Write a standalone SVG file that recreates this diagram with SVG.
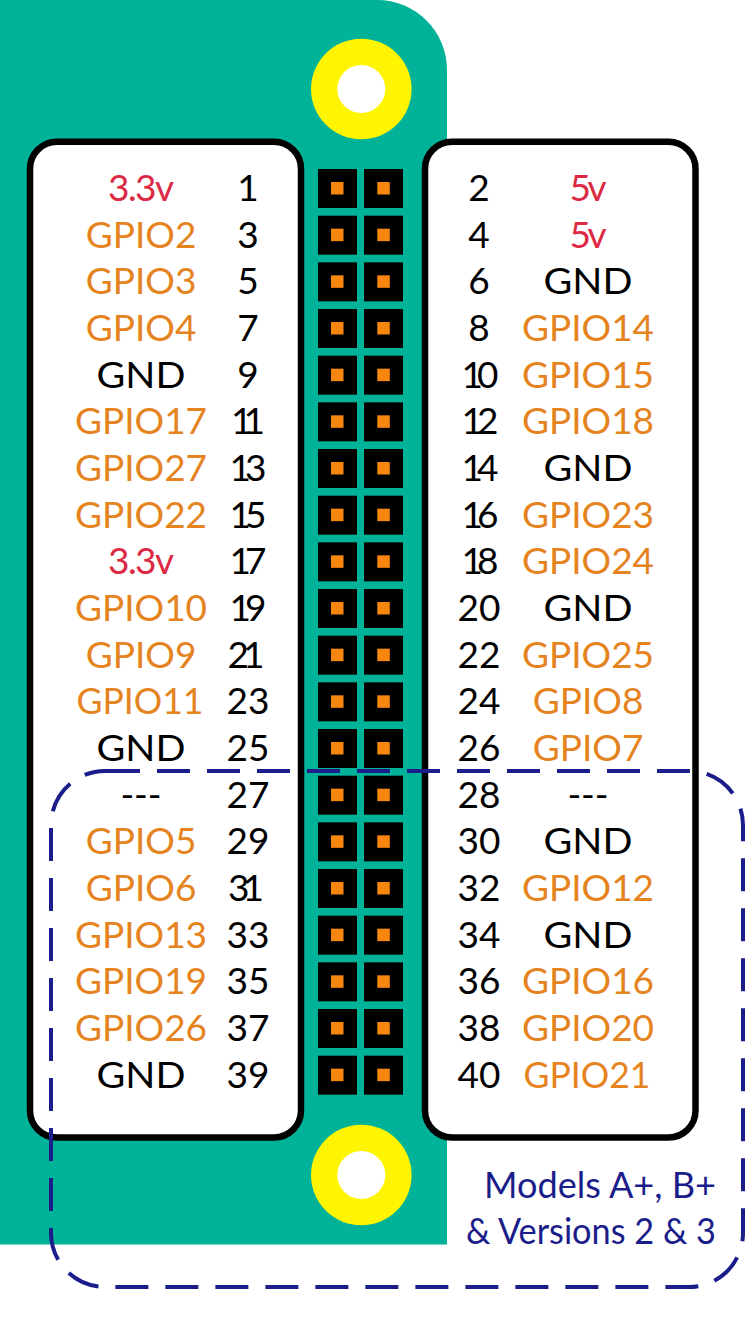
<svg xmlns="http://www.w3.org/2000/svg" width="745" height="1320" viewBox="0 0 745 1320">
<style>
text{font-family:"Lato","Open Sans","Liberation Sans",sans-serif;font-size:37px;text-anchor:middle}
.n,.g{fill:#000}.p{fill:#e5841f}.r{fill:#dc2a44}
.l{font-size:36px;fill:#1b1e8a;text-anchor:end}
.panel{fill:#fff;stroke:#000;stroke-width:6.500}
.hole{fill:#fff}.ring{fill:#fff500}
.pin{fill:#000}.pad{fill:#f7860f}
.dash{fill:none;stroke:#1b1e8a;stroke-width:4;stroke-dasharray:33 17}
</style>
<defs>
<g id="pinpair">
<rect class="pin" x="318" y="169" width="39" height="39"/><rect class="pin" x="364" y="169" width="39" height="39"/>
<rect class="pad" x="331" y="182" width="12.5" height="12.5"/><rect class="pad" x="377.3" y="182" width="12.5" height="12.5"/>
</g>
</defs>
<g id="board">
<path d="M0 0H377A70 70 0 0 1 447 70V1244.500H0Z" fill="#00b398"/>
<circle class="ring" cx="361.300" cy="89" r="50.300"/><circle class="hole" cx="361.300" cy="89" r="24"/>
<circle class="ring" cx="361.300" cy="1175" r="50.300"/><circle class="hole" cx="361.300" cy="1175" r="24"/>
</g>
<g id="panel-left"><rect class="panel" x="30" y="141.700" width="271" height="995.800" rx="27"/></g>
<g id="panel-right"><rect class="panel" x="425" y="141.700" width="270.500" height="995.800" rx="27"/></g>
<g id="row-1"><use href="#pinpair"/><text class="r" x="141" y="201" textLength="66">3.3v</text><text class="n" x="248" y="201">1</text><text class="n" x="479" y="201">2</text><text class="r" x="588" y="201" textLength="37">5v</text></g>
<g id="row-2"><use href="#pinpair" y="46.67"/><text class="p" x="141" y="247.7">GPIO2</text><text class="n" x="248" y="247.7">3</text><text class="n" x="479" y="247.7">4</text><text class="r" x="588" y="247.7" textLength="37">5v</text></g>
<g id="row-3"><use href="#pinpair" y="93.33"/><text class="p" x="141" y="294.3">GPIO3</text><text class="n" x="248" y="294.3">5</text><text class="n" x="479" y="294.3">6</text><text class="g" x="588" y="294.3" textLength="89" lengthAdjust="spacingAndGlyphs">GND</text></g>
<g id="row-4"><use href="#pinpair" y="140"/><text class="p" x="141" y="341">GPIO4</text><text class="n" x="248" y="341">7</text><text class="n" x="479" y="341">8</text><text class="p" x="588" y="341">GPIO14</text></g>
<g id="row-5"><use href="#pinpair" y="186.67"/><text class="g" x="141" y="387.7" textLength="89" lengthAdjust="spacingAndGlyphs">GND</text><text class="n" x="248" y="387.7">9</text><text class="n" x="480" y="387.7" textLength="37">10</text><text class="p" x="588" y="387.7">GPIO15</text></g>
<g id="row-6"><use href="#pinpair" y="233.33"/><text class="p" x="141" y="434.3">GPIO17</text><text class="n" x="248" y="434.3" textLength="34">11</text><text class="n" x="480" y="434.3" textLength="37">12</text><text class="p" x="588" y="434.3">GPIO18</text></g>
<g id="row-7"><use href="#pinpair" y="280"/><text class="p" x="141" y="481">GPIO27</text><text class="n" x="248" y="481" textLength="37">13</text><text class="n" x="480" y="481" textLength="37">14</text><text class="g" x="588" y="481" textLength="89" lengthAdjust="spacingAndGlyphs">GND</text></g>
<g id="row-8"><use href="#pinpair" y="326.67"/><text class="p" x="141" y="527.7">GPIO22</text><text class="n" x="248" y="527.7" textLength="37">15</text><text class="n" x="480" y="527.7" textLength="37">16</text><text class="p" x="588" y="527.7">GPIO23</text></g>
<g id="row-9"><use href="#pinpair" y="373.33"/><text class="r" x="141" y="574.3" textLength="66">3.3v</text><text class="n" x="248" y="574.3" textLength="37">17</text><text class="n" x="480" y="574.3" textLength="37">18</text><text class="p" x="588" y="574.3">GPIO24</text></g>
<g id="row-10"><use href="#pinpair" y="420"/><text class="p" x="141" y="621">GPIO10</text><text class="n" x="248" y="621" textLength="37">19</text><text class="n" x="479" y="621">20</text><text class="g" x="588" y="621" textLength="89" lengthAdjust="spacingAndGlyphs">GND</text></g>
<g id="row-11"><use href="#pinpair" y="466.67"/><text class="p" x="141" y="667.7">GPIO9</text><text class="n" x="246" y="667.7" textLength="37">21</text><text class="n" x="479" y="667.7">22</text><text class="p" x="588" y="667.7">GPIO25</text></g>
<g id="row-12"><use href="#pinpair" y="513.33"/><text class="p" x="140" y="714.3" textLength="127" lengthAdjust="spacingAndGlyphs">GPIO11</text><text class="n" x="248" y="714.3">23</text><text class="n" x="479" y="714.3">24</text><text class="p" x="588" y="714.3">GPIO8</text></g>
<g id="row-13"><use href="#pinpair" y="560"/><text class="g" x="141" y="761" textLength="89" lengthAdjust="spacingAndGlyphs">GND</text><text class="n" x="248" y="761">25</text><text class="n" x="479" y="761">26</text><text class="p" x="588" y="761">GPIO7</text></g>
<g id="row-14"><use href="#pinpair" y="606.67"/><text class="g" x="141" y="807.7">---</text><text class="n" x="248" y="807.7">27</text><text class="n" x="479" y="807.7">28</text><text class="g" x="588" y="807.7">---</text></g>
<g id="row-15"><use href="#pinpair" y="653.33"/><text class="p" x="141" y="854.3">GPIO5</text><text class="n" x="248" y="854.3">29</text><text class="n" x="479" y="854.3">30</text><text class="g" x="588" y="854.3" textLength="89" lengthAdjust="spacingAndGlyphs">GND</text></g>
<g id="row-16"><use href="#pinpair" y="700"/><text class="p" x="141" y="901">GPIO6</text><text class="n" x="246" y="901" textLength="36">31</text><text class="n" x="479" y="901">32</text><text class="p" x="588" y="901">GPIO12</text></g>
<g id="row-17"><use href="#pinpair" y="746.67"/><text class="p" x="141" y="947.7">GPIO13</text><text class="n" x="248" y="947.7">33</text><text class="n" x="479" y="947.7">34</text><text class="g" x="588" y="947.7" textLength="89" lengthAdjust="spacingAndGlyphs">GND</text></g>
<g id="row-18"><use href="#pinpair" y="793.33"/><text class="p" x="141" y="994.3">GPIO19</text><text class="n" x="248" y="994.3">35</text><text class="n" x="479" y="994.3">36</text><text class="p" x="588" y="994.3">GPIO16</text></g>
<g id="row-19"><use href="#pinpair" y="840"/><text class="p" x="141" y="1041">GPIO26</text><text class="n" x="248" y="1041">37</text><text class="n" x="479" y="1041">38</text><text class="p" x="588" y="1041">GPIO20</text></g>
<g id="row-20"><use href="#pinpair" y="886.67"/><text class="g" x="141" y="1087.7" textLength="89" lengthAdjust="spacingAndGlyphs">GND</text><text class="n" x="248" y="1087.7">39</text><text class="n" x="479" y="1087.7">40</text><text class="p" x="587" y="1087.7" textLength="127" lengthAdjust="spacingAndGlyphs">GPIO21</text></g>
<g id="connectors"><path class="dash" d="M107 771H689A54 54 0 0 1 743 825V1233A54 54 0 0 1 689 1287H105A54 54 0 0 1 51 1233V825A54 54 0 0 1 105 771H107"/></g>
<g id="models-label"><text class="l" x="716" y="1198" textLength="232" lengthAdjust="spacingAndGlyphs">Models A+, B+</text><text class="l" x="716" y="1244" textLength="250" lengthAdjust="spacingAndGlyphs">&amp; Versions 2 &amp; 3</text></g>
</svg>
